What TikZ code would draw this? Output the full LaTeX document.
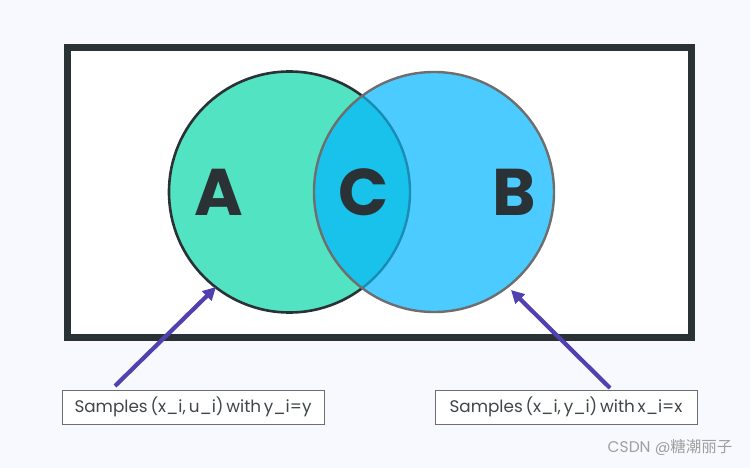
\documentclass[tikz,border=0pt]{standalone}
\usepackage{fontspec}
\setmainfont{Poppins}
\newfontfamily\cjk{Noto Sans CJK SC}
\usetikzlibrary{arrows.meta}
\definecolor{bgcol}{HTML}{F8F9FE}
\definecolor{framecol}{HTML}{2B3236}
\definecolor{colA}{HTML}{52E3C2}
\definecolor{colB}{HTML}{4BCBFF}
\definecolor{colC}{HTML}{19C2EA}
\definecolor{edgeB}{HTML}{6E6E6E}
\definecolor{edgeC}{HTML}{1A8DB2}
\definecolor{arrcol}{HTML}{5140B0}
\tikzset{
  letter/.style={font=\fontsize{66}{66}\selectfont\bfseries, text=framecol},
  samplebox/.style={draw=edgeB, fill=white, line width=0.9pt, minimum width=262pt,
    minimum height=34pt, inner sep=0pt, font=\fontsize{16.8}{17}\selectfont, text=framecol!90},
  pointer/.style={-{Triangle[length=13pt,width=13pt]}, line width=4.2pt, draw=arrcol},
}
\begin{document}
\begin{tikzpicture}[x=1pt, y=-1pt]
    % background
    \fill[bgcol] (0,0) rectangle (750,468);
    \useasboundingbox (0,0) rectangle (750,468);
    % frame
    \draw[framecol, fill=white, line width=7pt] (67.5,47.5) rectangle (691,337);
    % circles A and B
    \coordinate (cA) at (289.5,192);
    \coordinate (cB) at (434,192);
    \fill[colA] (cA) circle (120.5);
    \fill[colB] (cB) circle (120);
    \begin{scope}
        \clip (cA) circle (120.5);
        \fill[colC] (cB) circle (120);
    \end{scope}
    \begin{scope}
        \clip (cB) circle (120);
        \draw[edgeC, line width=2.4pt] (cA) circle (120.5);
    \end{scope}
    \begin{scope}
        \clip (0,0) rectangle (750,468) (cB) circle (120);
        \draw[framecol, line width=2.6pt, even odd rule] (cA) circle (120.5);
    \end{scope}
    \draw[edgeB, line width=2.4pt] (cB) circle (120);
    % letters
    \node[letter] (lA) at (219,192) {A};
    \node[letter] (lC) at (364,192) {C};
    \node[letter] (lB) at (514,192) {B};
    % labels
    \node[samplebox] (boxL) at (193,407) {Samples\,(x\_i,\,u\_i)\,with\,y\_i=y};
    \node[samplebox] (boxR) at (566,407) {Samples\,(x\_i,\,y\_i)\,with\,x\_i=x};
    % arrows
    \coordinate (tailL) at (115,386);
    \coordinate (tipL) at (216,287);
    \coordinate (tailR) at (610,388);
    \coordinate (tipR) at (511,290);
    \draw[pointer] (tailL) -- (tipL);
    \draw[pointer] (tailR) -- (tipR);
    % watermark
    \node[text=gray!75, font=\fontsize{15.5}{16}\selectfont, anchor=east] (mark) at (736,447)
        {CSDN @{\cjk 糖潮丽子}};
\end{tikzpicture}
\end{document}
